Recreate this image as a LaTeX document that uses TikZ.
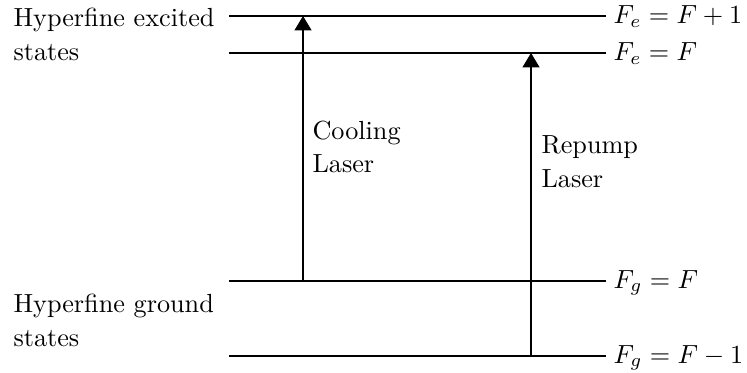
\documentclass[tikz,border=0pt]{standalone}
\usetikzlibrary{arrows.meta}
\begin{document}
\begin{tikzpicture}[x=0.3817pt,y=-0.3817pt,
  level/.style={line width=0.8pt},
  laser/.style={line width=0.4pt,-{Triangle[length=5.5pt,width=6.5pt]}},
  txt/.style={anchor=base west,inner sep=0pt,font=\fontsize{10}{12}\selectfont},
  lbl/.style={anchor=base west,inner sep=0pt,font=\fontsize{10}{12}\selectfont}]
\useasboundingbox (0,0) rectangle (747,372);
% level end points
\coordinate (e1L) at (229,16);  \coordinate (e1R) at (606,16);
\coordinate (e0L) at (229,53);  \coordinate (e0R) at (606,53);
\coordinate (g0L) at (229,281); \coordinate (g0R) at (606,281);
\coordinate (g1L) at (229,356); \coordinate (g1R) at (606,356);
\draw[level] (e1L) -- (e1R);
\draw[level] (e0L) -- (e0R);
\draw[level] (g0L) -- (g0R);
\draw[level] (g1L) -- (g1R);
% laser ends
\coordinate (cS) at (303,281); \coordinate (cT) at (303,16);
\coordinate (rS) at (531,356); \coordinate (rT) at (531,53);
\draw[laser] (cS) -- (cT);
\draw[laser] (rS) -- (rT);
% right labels
\node[lbl] (le1) at (613,24)  {$F_e = F+1$};
\node[lbl] (le0) at (613,61)  {$F_e = F$};
\node[lbl] (lg0) at (613,288) {$F_g = F$};
\node[lbl] (lg1) at (613,363) {$F_g = F-1$};
% left labels
\node[txt] (hx1) at (13,27)  {Hyperfine excited};
\node[txt] (hx2) at (13,61)  {states};
\node[txt] (hg1) at (13,312) {Hyperfine ground};
\node[txt] (hg2) at (13,346) {states};
% laser labels
\node[txt] (cl1) at (312,139) {Cooling};
\node[txt] (cl2) at (312,172) {Laser};
\node[txt] (rl1) at (541,153) {Repump};
\node[txt] (rl2) at (541,187) {Laser};
\end{tikzpicture}
\end{document}
